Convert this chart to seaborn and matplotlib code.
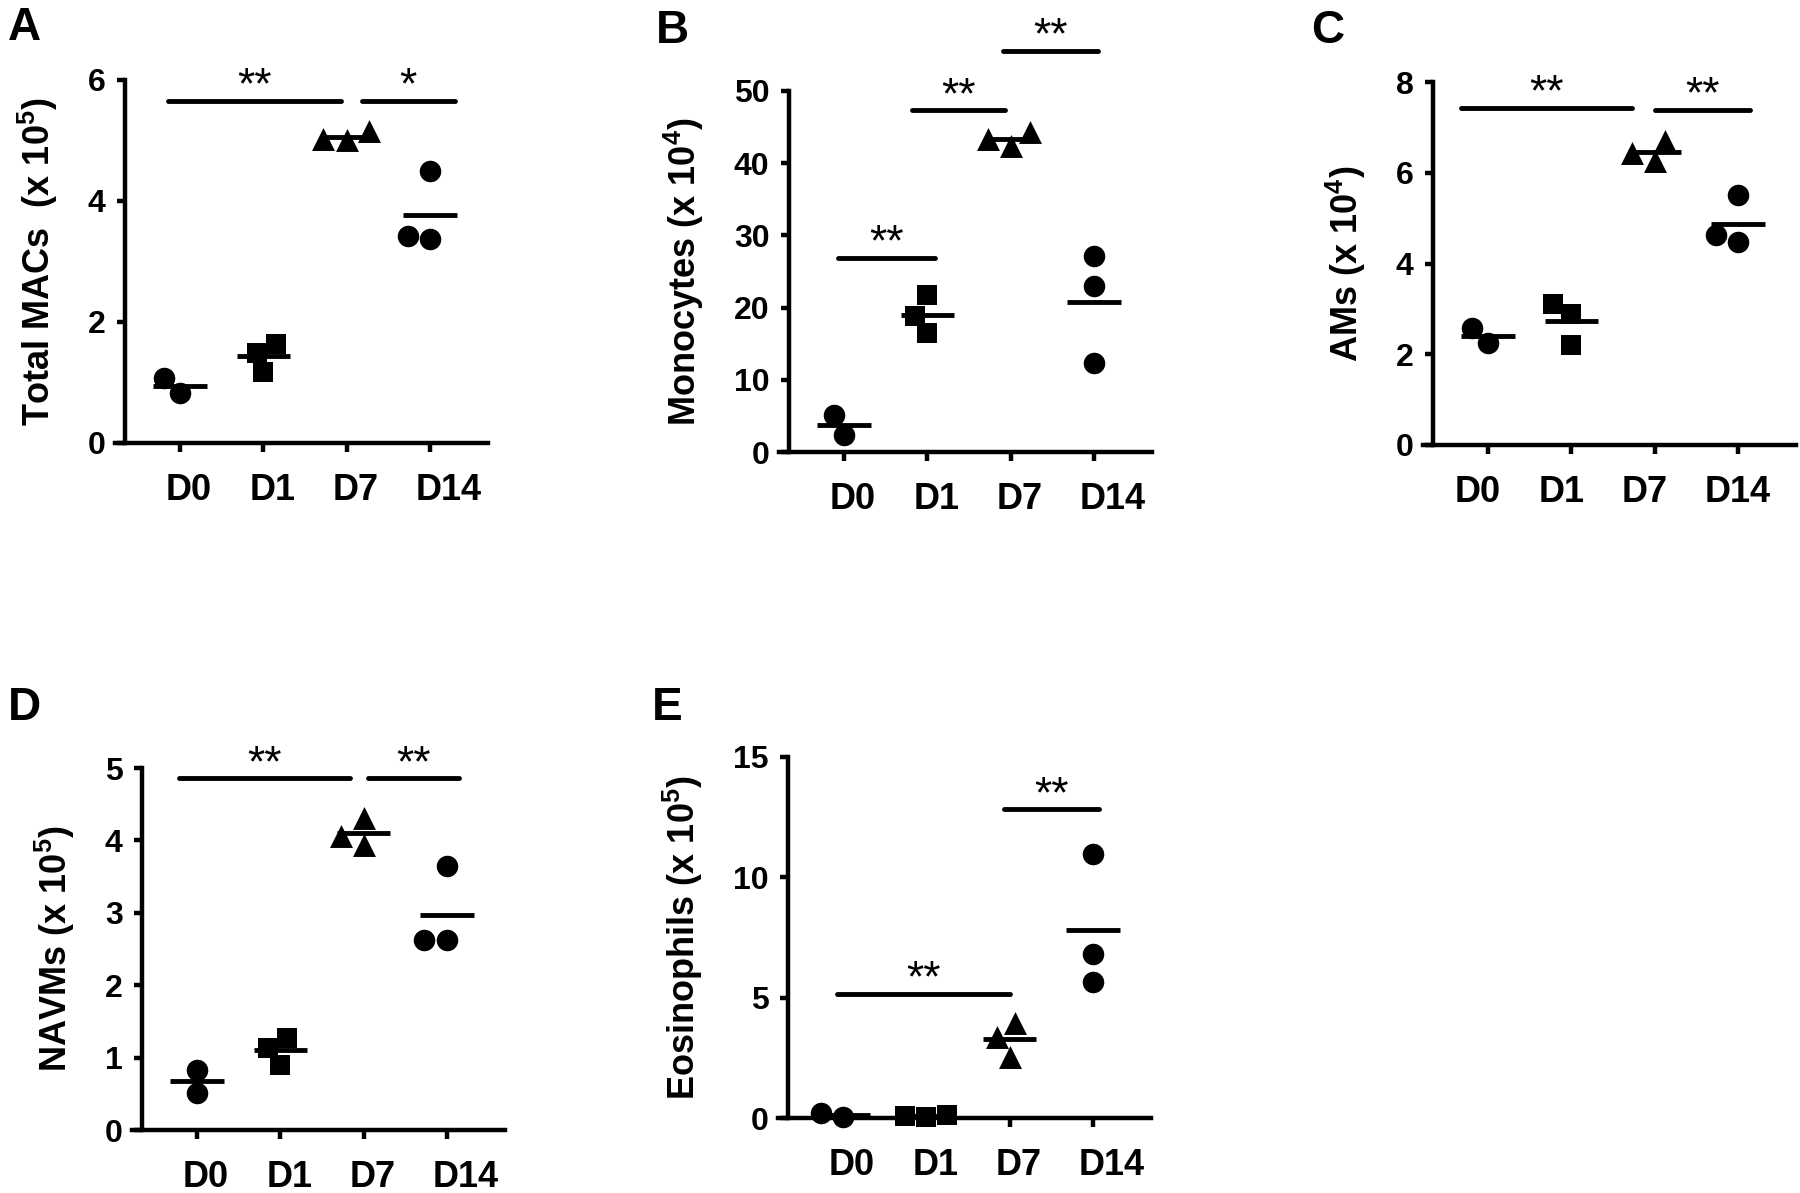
import numpy as np
import matplotlib
matplotlib.use("Agg")
import matplotlib.pyplot as plt
from matplotlib.transforms import ScaledTranslation
import seaborn as sns

DAYS = ["D0", "D1", "D7", "D14"]
MARKERS = ["o", "s", "^", "o"]

# A: total MACs (x 10^5)
macs_d0 = [0.82, 1.07]
macs_d1 = [1.64, 1.49, 1.17]
macs_d7 = [5.0, 5.15, 5.02]
macs_d14 = [4.5, 3.37, 3.42]

# B: monocytes (x 10^4)
mono_d0 = [2.4, 5.1]
mono_d1 = [21.8, 16.5, 18.8]
mono_d7 = [44.3, 42.4, 43.3]
mono_d14 = [27.1, 23.0, 12.3]

# C: AMs (x 10^4)
ams_d0 = [2.24, 2.58]
ams_d1 = [3.11, 2.88, 2.2]
ams_d7 = [6.25, 6.71, 6.44]
ams_d14 = [5.5, 4.47, 4.62]

# D: NAVMs (x 10^5)
navms_d0 = [0.83, 0.51]
navms_d1 = [1.27, 0.9, 1.13]
navms_d7 = [4.31, 3.94, 4.06]
navms_d14 = [3.64, 2.63, 2.63]

# E: eosinophils (x 10^5)
eos_d0 = [0.05, 0.2]
eos_d1 = [0.05, 0.12, 0.08]
eos_d7 = [3.95, 2.55, 3.35]
eos_d14 = [10.96, 6.81, 5.64]

# significance bars: (x start, x end, height, label)
sig_a = [(-0.14, 1.93, 5.66, "**"), (2.18, 3.3, 5.66, "*")]
sig_b = [(-0.07, 1.09, 26.9, "**"), (0.82, 1.93, 47.3, "**"), (1.91, 3.05, 55.6, "**")]
sig_c = [(-0.32, 1.73, 7.43, "**"), (2.0, 3.14, 7.39, "**")]
sig_d = [(-0.22, 1.84, 4.86, "**"), (2.05, 3.14, 4.86, "**")]
sig_e = [(-0.07, 2.0, 5.16, "**"), (1.93, 3.07, 12.82, "**")]

sns.set_style("ticks")
plt.rcParams["font.family"] = ["Liberation Sans", "DejaVu Sans"]
plt.rcParams["font.weight"] = "bold"
plt.rcParams["mathtext.fontset"] = "custom"
plt.rcParams["mathtext.rm"] = "Liberation Sans:bold"
plt.rcParams["mathtext.it"] = "Liberation Sans:bold"
plt.rcParams["mathtext.default"] = "rm"
for key in ["text.color", "axes.labelcolor", "xtick.color", "ytick.color", "axes.edgecolor"]:
    plt.rcParams[key] = "black"

W, H = 1800, 1193
STEP = 83.3  # px between day ticks
fig = plt.figure(figsize=(W / 100, H / 100), dpi=100)


def make_ax(tick0, top, bottom):
    left, right = tick0 - 65, tick0 + 3 * STEP + 58
    ax = fig.add_axes([left / W, 1 - bottom / H, (right - left) / W, (bottom - top) / H])
    ax.set_xlim(-65 / STEP, 3 + 58 / STEP)
    return ax


def draw_panel(ax, groups, ymax, yticks, ylabel, sigs, label_shift=-14):
    for i, (day, vals, m) in enumerate(zip(DAYS, groups, MARKERS)):
        size = {"o": 15.5, "s": 14.5, "^": 16.5}[m]
        sns.swarmplot(x=[day] * len(vals), y=vals, order=DAYS, marker=m, size=size,
                      color="black", linewidth=0, clip_on=False, ax=ax)
        ax.hlines(np.mean(vals), i - 0.32, i + 0.32, color="black", lw=3.5, zorder=3)
    for x0, x1, y, lab in sigs:
        ax.plot([x0, x1], [y, y], color="black", lw=3.5, solid_capstyle="round", clip_on=False)
        ax.annotate(lab, ((x0 + x1) / 2, y), xytext=(0, 1.5), textcoords="offset points",
                    ha="center", va="baseline", fontsize=32, fontweight="normal",
                    annotation_clip=False)
    ax.set_xlim(-65 / STEP, 3 + 58 / STEP)
    ax.set_ylim(0, ymax)
    ax.set_yticks(yticks)
    ax.set_xticks(range(len(DAYS)))
    ax.set_xticklabels(DAYS)
    ax.set_xlabel("")
    ax.set_ylabel(ylabel, fontsize=26, fontweight="bold", labelpad=20)
    sns.despine(ax=ax)
    for s in ["left", "bottom"]:
        ax.spines[s].set_linewidth(3.2)
    ax.spines["left"].set_position(("outward", -7.2))
    ax.tick_params(axis="x", length=6.5, width=3.2, pad=15, labelsize=26)
    ax.tick_params(axis="y", length=6, width=3.2, pad=8, labelsize=23)
    for t in ax.get_xticklabels():
        t.set_horizontalalignment("left")
        t.set_transform(t.get_transform() + ScaledTranslation(label_shift / 100, 0, fig.dpi_scale_trans))


ax_a = make_ax(180, 80, 443)
draw_panel(ax_a, [macs_d0, macs_d1, macs_d7, macs_d14], 6, [0, 2, 4, 6],
           r"Total MACs  (x 10$^5$)", sig_a)

ax_b = make_ax(844, 91, 452)
draw_panel(ax_b, [mono_d0, mono_d1, mono_d7, mono_d14], 50, [0, 10, 20, 30, 40, 50],
           r"Monocytes (x 10$^4$)", sig_b)

ax_c = make_ax(1488, 82, 445)
draw_panel(ax_c, [ams_d0, ams_d1, ams_d7, ams_d14], 8, [0, 2, 4, 6, 8],
           r"AMs (x 10$^4$)", sig_c, label_shift=-33)

ax_d = make_ax(197, 768, 1130)
draw_panel(ax_d, [navms_d0, navms_d1, navms_d7, navms_d14], 5, [0, 1, 2, 3, 4, 5],
           r"NAVMs (x 10$^5$)", sig_d)

ax_e = make_ax(843, 757, 1118)
draw_panel(ax_e, [eos_d0, eos_d1, eos_d7, eos_d14], 15, [0, 5, 10, 15],
           r"Eosinophils (x 10$^5$)", sig_e)

for lab, x, y in [("A", 8, 6), ("B", 656, 9), ("C", 1311, 9), ("D", 8, 686), ("E", 652, 686)]:
    fig.text(x / W, 1 - y / H, lab, fontsize=33, fontweight="bold", ha="left", va="top")

fig.savefig("out.png", dpi=100)
